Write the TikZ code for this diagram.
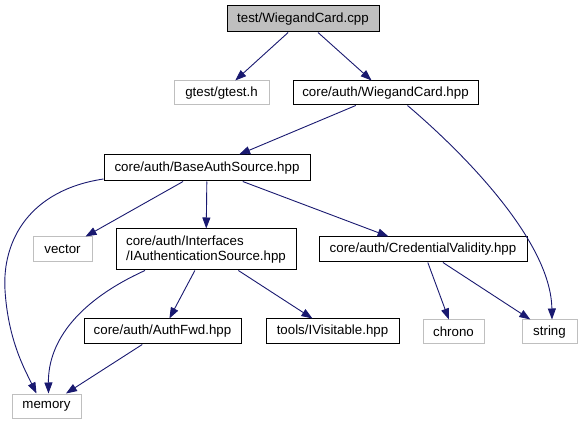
\documentclass[tikz,border=0pt]{standalone}
\usepackage{fontspec}
\setmainfont{Liberation Sans}
\usetikzlibrary{arrows.meta}
\definecolor{edgeblue}{HTML}{191970}
\definecolor{extgray}{HTML}{BFBFBF}
\tikzset{
  filebox/.style={draw=black, line width=1pt, inner sep=0pt, fill=white,
                  font=\fontsize{13.3}{15}\selectfont},
  sysbox/.style={filebox, draw=extgray},
  rootbox/.style={filebox, fill=extgray},
  incl/.style={draw=edgeblue, line width=0.9pt, -{Triangle[length=11pt,width=8pt]}}
}
\begin{document}
\begin{tikzpicture}[x=1pt,y=-1pt]
\useasboundingbox (0,0) rectangle (582,425);
\node[rootbox, minimum width=152, minimum height=26] (root) at (303,19) {test/WiegandCard.cpp};
\node[sysbox, minimum width=95, minimum height=24] (gtest) at (221.5,93) {gtest/gtest.h};
\node[filebox, minimum width=185, minimum height=24] (wchpp) at (385.5,93) {core/auth/WiegandCard.hpp};
\node[filebox, minimum width=206, minimum height=26] (base) at (207,168) {core/auth/BaseAuthSource.hpp};
\node[sysbox, minimum width=59, minimum height=25] (vector) at (62.5,249.5) {vector};
\node[filebox, minimum width=180, minimum height=41, align=left] (iauth) at (206,249.5)
  {core/auth/Interfaces\\/IAuthenticationSource.hpp};
\node[filebox, minimum width=208, minimum height=25] (cred) at (423,249.5) {core/auth/CredentialValidity.hpp};
\node[filebox, minimum width=157, minimum height=25] (fwd) at (162.5,331.5) {core/auth/AuthFwd.hpp};
\node[filebox, minimum width=133, minimum height=25] (visit) at (332.5,331.5) {tools/IVisitable.hpp};
\node[sysbox, minimum width=61, minimum height=24] (chrono) at (453.5,332) {chrono};
\node[sysbox, minimum width=55, minimum height=24] (string) at (549.5,332) {string};
\node[sysbox, minimum width=69, minimum height=24] (memory) at (46.5,406) {memory};

\draw[incl] (root) -- (gtest);
\draw[incl] (root) -- (wchpp);
\draw[incl] (wchpp) -- (base);
\draw[incl] ([xshift=22]wchpp.south) .. controls (460,150) and (551,240) .. ([xshift=2.5]string.north);
\draw[incl] ([yshift=-11]base.west) .. controls (30,190) and (2,240) .. (5,290)
                 .. controls (8,340) and (25,370) .. ([xshift=-10]memory.north);
\draw[incl] (base) -- (vector);
\draw[incl] (base) -- (iauth);
\draw[incl] (base) -- (cred);
\draw[incl] ([xshift=-61]iauth.south) .. controls (80,300) and (48,340) .. ([xshift=2]memory.north);
\draw[incl] (iauth) -- (fwd);
\draw[incl] (iauth) -- (visit);
\draw[incl] (fwd) -- (memory);
\draw[incl] (cred) -- (chrono);
\draw[incl] (cred) -- (string);
\end{tikzpicture}
\end{document}
